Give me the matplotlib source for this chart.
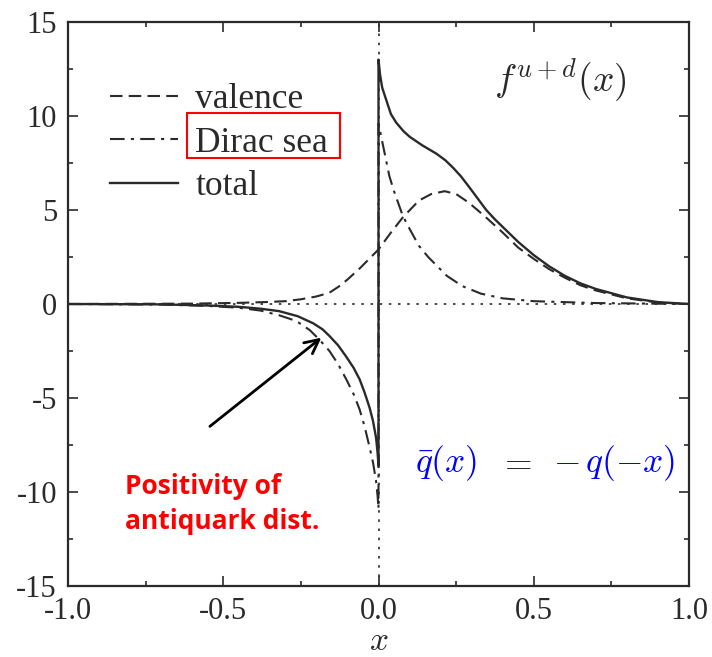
import matplotlib
matplotlib.use("Agg")
import matplotlib.pyplot as plt
from matplotlib.patches import Rectangle
from matplotlib.ticker import MultipleLocator

# ---- data -------------------------------------------------------------
valence_x = [-1.0, -0.6, -0.45, -0.35, -0.3, -0.25, -0.2, -0.158, -0.126, -0.1,
             -0.06, -0.03, 0.0, 0.04, 0.078, 0.13, 0.17, 0.213, 0.25, 0.29,
             0.34, 0.4, 0.45, 0.5, 0.55, 0.6, 0.65, 0.7, 0.8, 0.9, 1.0]
valence_y = [0.0, 0.02, 0.06, 0.11, 0.15, 0.25, 0.4, 0.6, 0.95, 1.3,
             1.9, 2.4, 2.9, 3.8, 4.6, 5.5, 5.85, 6.0, 5.85, 5.4,
             4.7, 3.8, 3.0, 2.4, 1.85, 1.4, 1.0, 0.72, 0.3, 0.08, 0.0]

sea_x_neg = [-1.0, -0.7, -0.55, -0.45, -0.38, -0.32, -0.265, -0.222, -0.19, -0.158,
             -0.13, -0.104, -0.08, -0.061, -0.045, -0.029, -0.018, -0.008, -0.003, 0.0]
sea_y_neg = [0.0, -0.03, -0.1, -0.2, -0.35, -0.6, -0.9, -1.38, -1.9, -2.5,
             -3.2, -4.0, -4.8, -5.6, -6.5, -7.6, -8.4, -9.4, -10.2, -10.9]
sea_x_pos = [0.0, 0.01, 0.02, 0.035, 0.05, 0.078, 0.1, 0.13, 0.16, 0.19,
             0.22, 0.27, 0.33, 0.4, 0.5, 0.7, 1.0]
sea_y_pos = [9.6, 8.8, 8.0, 6.8, 6.0, 4.7, 4.0, 3.1, 2.5, 2.0,
             1.5, 0.95, 0.55, 0.3, 0.15, 0.05, 0.0]

total_x_neg = [-1.0, -0.7, -0.55, -0.45, -0.38, -0.32, -0.26, -0.21, -0.18, -0.158,
               -0.13, -0.104, -0.08, -0.061, -0.045, -0.029, -0.018, -0.008, -0.003, 0.0]
total_y_neg = [0.0, -0.02, -0.08, -0.15, -0.25, -0.38, -0.65, -1.03, -1.35, -1.7,
               -2.2, -2.8, -3.4, -4.0, -4.7, -5.5, -6.2, -7.1, -7.9, -8.6]
total_x_pos = [0.0, 0.005, 0.012, 0.025, 0.04, 0.057, 0.08, 0.1, 0.14, 0.186,
               0.215, 0.24, 0.265, 0.293, 0.32, 0.347, 0.375, 0.4, 0.45, 0.5,
               0.55, 0.6, 0.65, 0.7, 0.8, 0.9, 1.0]
total_y_pos = [13.0, 12.2, 11.5, 10.85, 10.1, 9.65, 9.2, 8.9, 8.45, 8.0,
               7.65, 7.25, 6.8, 6.2, 5.6, 5.0, 4.5, 4.1, 3.3, 2.6,
               2.0, 1.5, 1.1, 0.8, 0.35, 0.1, 0.0]

labels = ["valence", "Dirac sea", "total"]

# ---- style ------------------------------------------------------------
plt.rcParams["font.family"] = ["Liberation Serif", "DejaVu Serif"]
plt.rcParams["mathtext.fontset"] = "cm"
ink = "#2a2a2a"

fig = plt.figure(figsize=(7.12, 6.57), dpi=100)
ax = fig.add_axes([68 / 712, 1 - 586 / 657, 621 / 712, 564 / 657])

ax.axhline(0, color=ink, lw=1.2, ls=(0, (1.5, 4)))
ax.axvline(0, color=ink, lw=1.2, ls=(0, (1.5, 4)))

ax.plot(valence_x, valence_y, color=ink, lw=1.5, ls=(0, (6, 3)), label=labels[0])
ax.plot(sea_x_neg + sea_x_pos, sea_y_neg + sea_y_pos, color=ink, lw=1.5,
        ls=(0, (7, 3, 1.5, 3)), label=labels[1])
ax.plot(total_x_neg + total_x_pos, total_y_neg + total_y_pos, color=ink, lw=1.7,
        ls="-", label=labels[2])

ax.set_xlim(-1, 1)
ax.set_ylim(-15, 15)
ax.xaxis.set_major_locator(MultipleLocator(0.5))
ax.xaxis.set_minor_locator(MultipleLocator(0.25))
ax.yaxis.set_major_locator(MultipleLocator(5))
ax.yaxis.set_minor_locator(MultipleLocator(2.5))
ax.xaxis.set_major_formatter(plt.FuncFormatter(lambda v, p: f"{v:.1f}"))
ax.yaxis.set_major_formatter(plt.FuncFormatter(lambda v, p: f"{v:.0f}"))
ax.tick_params(which="both", direction="in", top=True, right=True,
               color=ink, labelcolor=ink, labelsize=22)
ax.tick_params(which="major", length=7, width=1.2, pad=8)
ax.tick_params(which="minor", length=3.5, width=1.2)
for s in ax.spines.values():
    s.set_color(ink)
    s.set_linewidth(1.6)

fig.text(379 / 712, 1 - 642 / 657, r"$x$", fontsize=24, color=ink,
         ha="center", va="center")

leg = ax.legend(loc="upper left", bbox_to_anchor=(0.068, 0.891), frameon=False,
                fontsize=25.5, handlelength=1.9, handletextpad=0.5,
                labelspacing=0.29, borderpad=0, borderaxespad=0)
for t in leg.get_texts():
    t.set_color(ink)

# highlight box around the "Dirac sea" entry
fig.patches.append(Rectangle((187 / 712, 1 - 158 / 657), 153 / 712, 45 / 657,
                             transform=fig.transFigure, fill=False,
                             edgecolor="red", lw=1.5))

ax.text(0.586, 11.9, r"$f^{u+d}(x)$", fontsize=27, color=ink,
        ha="center", va="center")

ax.text(0.216, -8.46, r"$\bar{q}(x)$", fontsize=25.5, color="blue",
        ha="center", va="center")
ax.text(0.44, -8.46, r"$=$", fontsize=25.5, color=ink, ha="center", va="center")
ax.text(0.76, -8.46, r"$-\,q(-x)$", fontsize=25.5, color="blue",
        ha="center", va="center")

ax.text(-0.815, -10.64, "Positivity of\nantiquark dist.", fontsize=19,
        color="red", fontweight="bold", family=["Open Sans", "DejaVu Sans"],
        ha="left", va="center", linespacing=1.4)

ax.annotate("", xy=(-0.177, -1.7), xytext=(-0.55, -6.6),
            arrowprops=dict(arrowstyle="->", color="black", lw=2,
                            mutation_scale=25))

fig.savefig("out.png", dpi=100)
